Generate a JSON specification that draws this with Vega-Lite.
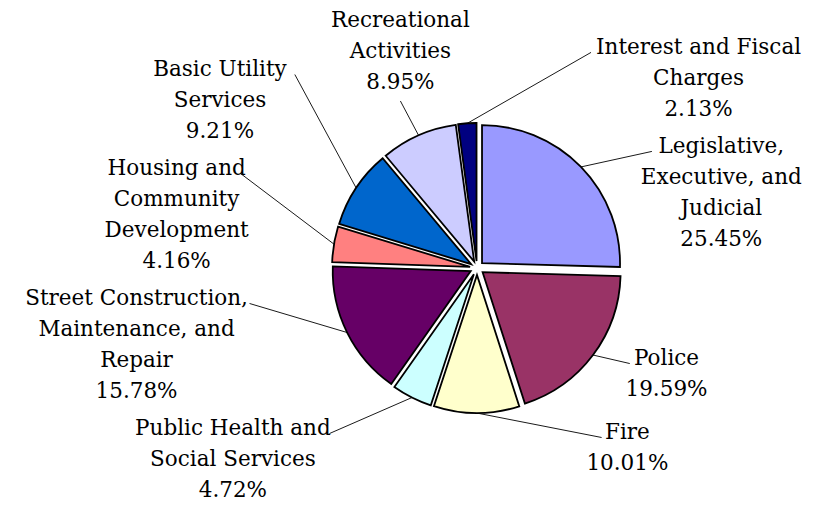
{
  "$schema": "https://vega.github.io/schema/vega-lite/v6.json",
  "width": 702,
  "height": 476,
  "padding": {"left": 126, "top": 30, "right": 0, "bottom": 0},
  "autosize": {"type": "none"},
  "background": "#ffffff",
  "config": {"view": {"stroke": null}},
  "data": {
    "values": [
      {"category": "Legislative, Executive, and Judicial", "label": "Legislative,\nExecutive, and\nJudicial", "pct": 25.45},
      {"category": "Police", "label": "Police", "pct": 19.59},
      {"category": "Fire", "label": "Fire", "pct": 10.01},
      {"category": "Public Health and Social Services", "label": "Public Health and\nSocial Services", "pct": 4.72},
      {"category": "Street Construction, Maintenance, and Repair", "label": "Street Construction,\nMaintenance, and\nRepair", "pct": 15.78},
      {"category": "Housing and Community Development", "label": "Housing and\nCommunity\nDevelopment", "pct": 4.16},
      {"category": "Basic Utility Services", "label": "Basic Utility\nServices", "pct": 9.21},
      {"category": "Recreational Activities", "label": "Recreational\nActivities", "pct": 8.95},
      {"category": "Interest and Fiscal Charges", "label": "Interest and Fiscal\nCharges", "pct": 2.13}
    ]
  },
  "transform": [
    {"window": [{"op": "sum", "field": "pct", "as": "cumEnd"}], "frame": [null, 0]},
    {"calculate": "datum.cumEnd - datum.pct", "as": "start"},
    {"calculate": "(datum.start + datum.pct / 2) * 3.6", "as": "midDeg"},
    {"calculate": "datum.midDeg * PI / 180", "as": "midRad"},
    {"calculate": "7 * sin(datum.midRad)", "as": "ex"},
    {"calculate": "7 * cos(datum.midRad)", "as": "ey"},
    {"calculate": "145 * sin(datum.midRad)", "as": "edgeX"},
    {"calculate": "145 * cos(datum.midRad)", "as": "edgeY"},
    {"calculate": "datum.label + '\\n' + format(datum.pct, '.2f') + '%'", "as": "txt"},
    {"calculate": "split(datum.txt, '\\n')", "as": "lines"},
    {"calculate": "length(datum.lines)", "as": "nLines"},
    {"calculate": "10.9 * max(length(datum.lines[0]), length(datum.lines[1] || ''), length(datum.lines[2] || ''), length(datum.lines[3] || ''), length(datum.lines[4] || ''))", "as": "w"},
    {"calculate": "10.9 * length(datum.lines[0])", "as": "w0"},
    {"calculate": "datum.nLines * 31", "as": "h"},
    {"calculate": "datum.h + 6", "as": "hg"},
    {"calculate": "(datum.midDeg >= 350 || datum.midDeg < 185) ? 'R' : (datum.midDeg >= 315 ? 'T' : 'L')", "as": "side"},
    {"calculate": "datum.side == 'L' ? 360 - datum.midDeg : (datum.midDeg >= 350 ? datum.midDeg - 360 : datum.midDeg)", "as": "sortKey"},
    {"calculate": "max(-185 * cos(datum.midRad) - datum.h / 2, -260)", "as": "topPref"},
    {"window": [{"op": "sum", "field": "hg", "as": "cumH"}], "groupby": ["side"], "sort": [{"field": "sortKey", "order": "ascending"}], "frame": [null, 0]},
    {"calculate": "datum.cumH - datum.hg", "as": "before"},
    {"calculate": "datum.topPref - datum.before", "as": "a"},
    {"window": [{"op": "max", "field": "a", "as": "runMax"}], "groupby": ["side"], "sort": [{"field": "sortKey", "order": "ascending"}], "frame": [null, 0]},
    {"calculate": "datum.before + datum.runMax", "as": "d1"},
    {"calculate": "min(datum.d1, 243 - datum.h) - datum.before", "as": "b"},
    {"window": [{"op": "min", "field": "b", "as": "sufMin"}], "groupby": ["side"], "sort": [{"field": "sortKey", "order": "ascending"}], "frame": [0, null]},
    {"calculate": "datum.before + datum.sufMin", "as": "dTop"},
    {"calculate": "datum.dTop + datum.h / 2", "as": "dc"},
    {"calculate": "sqrt(max(0, 1 - pow(datum.dc / 250, 2)))", "as": "f"},
    {"calculate": "min(190 * cos(datum.midRad) + datum.h, 258)", "as": "topT"},
    {"calculate": "datum.side == 'R' ? 175 * datum.f + datum.w / 2 : (datum.side == 'L' ? -245 * datum.f - datum.w / 2 : 190 * sin(datum.midRad))", "as": "labelX"},
    {"calculate": "datum.side == 'T' ? datum.topT : -datum.dTop", "as": "labelY"},
    {"calculate": "datum.side == 'R' ? datum.labelX - datum.w0 / 2 - 4 : (datum.side == 'L' ? datum.labelX + datum.w0 / 2 + 4 : datum.labelX)", "as": "endX"},
    {"calculate": "datum.side == 'T' ? datum.topT - datum.h + 2 : datum.labelY - 15.5", "as": "endY"}
  ],
  "layer": [
    {
      "mark": {"type": "rule", "color": "#1a1a1a", "strokeWidth": 1},
      "encoding": {
        "x": {"field": "edgeX", "type": "quantitative", "scale": {"domain": [-351, 351], "nice": false, "zero": false}, "axis": null},
        "y": {"field": "edgeY", "type": "quantitative", "scale": {"domain": [-238, 238], "nice": false, "zero": false}, "axis": null},
        "x2": {"field": "endX"},
        "y2": {"field": "endY"}
      }
    },
    {
      "mark": {"type": "arc", "radius": 138, "stroke": "#000000", "strokeWidth": 1.8},
      "encoding": {
        "theta": {"field": "start", "type": "quantitative", "stack": null, "scale": {"domain": [0, 100]}},
        "theta2": {"field": "cumEnd"},
        "x": {"field": "ex", "type": "quantitative", "scale": {"domain": [-351, 351], "nice": false, "zero": false}, "axis": null},
        "y": {"field": "ey", "type": "quantitative", "scale": {"domain": [-238, 238], "nice": false, "zero": false}, "axis": null},
        "color": {
          "field": "category",
          "type": "nominal",
          "legend": null,
          "scale": {
            "domain": ["Legislative, Executive, and Judicial", "Police", "Fire", "Public Health and Social Services", "Street Construction, Maintenance, and Repair", "Housing and Community Development", "Basic Utility Services", "Recreational Activities", "Interest and Fiscal Charges"],
            "range": ["#9999FF", "#993366", "#FFFFCC", "#CCFFFF", "#660066", "#FF8080", "#0066CC", "#CCCCFF", "#000080"]
          }
        }
      }
    },
    {
      "mark": {"type": "text", "align": "center", "baseline": "top", "font": "DejaVu Serif", "fontSize": 21.5, "lineHeight": 31, "lineBreak": "\n", "color": "#000000"},
      "encoding": {
        "x": {"field": "labelX", "type": "quantitative", "scale": {"domain": [-351, 351], "nice": false, "zero": false}, "axis": null},
        "y": {"field": "labelY", "type": "quantitative", "scale": {"domain": [-238, 238], "nice": false, "zero": false}, "axis": null},
        "text": {"field": "txt", "type": "nominal"}
      }
    }
  ]
}
